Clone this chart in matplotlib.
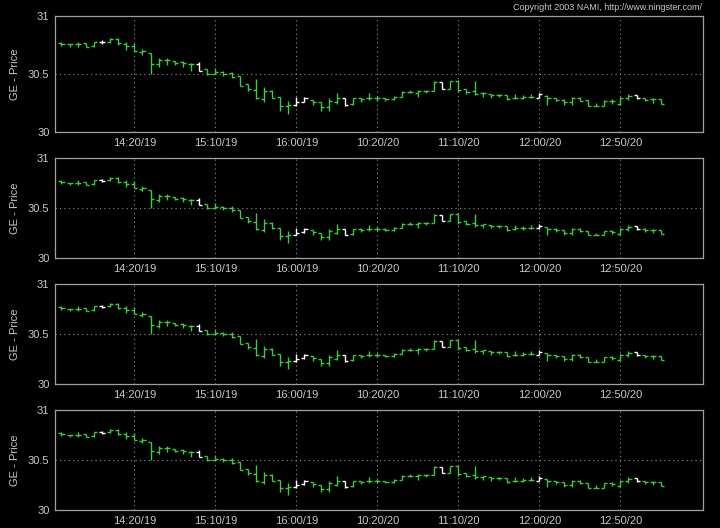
import numpy as np
import pandas as pd
import matplotlib
matplotlib.use('Agg')
import matplotlib.pyplot as plt

# 5-minute bars, GE price (two sessions)
times = list(pd.date_range('2003-05-19 13:35', '2003-05-19 16:00', freq='5min')) + \
        list(pd.date_range('2003-05-20 09:35', '2003-05-20 13:15', freq='5min'))

opens = [30.77, 30.755, 30.755, 30.765, 30.738, 30.78, 30.78, 30.80, 30.76, 30.745,
         30.69, 30.68, 30.585, 30.62, 30.615, 30.60, 30.585, 30.585, 30.54, 30.50,
         30.515, 30.505, 30.48, 30.41, 30.365, 30.285, 30.35, 30.30, 30.22, 30.23,
         30.26, 30.28, 30.255, 30.215, 30.255, 30.29, 30.24, 30.29, 30.29, 30.29,
         30.29, 30.285, 30.30, 30.345, 30.34, 30.35, 30.355, 30.43, 30.375, 30.44,
         30.375, 30.355, 30.335, 30.33, 30.32, 30.32, 30.29, 30.295, 30.30, 30.295,
         30.31, 30.29, 30.28, 30.255, 30.29, 30.275, 30.225, 30.225, 30.27, 30.24,
         30.29, 30.32, 30.29, 30.285, 30.285]
highs = [30.776, 30.755, 30.776, 30.765, 30.78, 30.79, 30.807, 30.807, 30.776, 30.767,
         30.718, 30.68, 30.64, 30.64, 30.615, 30.61, 30.595, 30.605, 30.54, 30.55,
         30.525, 30.52, 30.48, 30.415, 30.455, 30.385, 30.36, 30.30, 30.27, 30.30,
         30.30, 30.28, 30.255, 30.29, 30.34, 30.29, 30.29, 30.295, 30.335, 30.31,
         30.295, 30.31, 30.35, 30.36, 30.36, 30.365, 30.44, 30.435, 30.44, 30.445,
         30.375, 30.44, 30.345, 30.33, 30.33, 30.32, 30.33, 30.32, 30.33, 30.34,
         30.315, 30.295, 30.285, 30.30, 30.30, 30.275, 30.25, 30.275, 30.285, 30.30,
         30.33, 30.32, 30.295, 30.29, 30.285]
lows = [30.741, 30.73, 30.733, 30.733, 30.735, 30.762, 30.767, 30.753, 30.707, 30.70,
        30.666, 30.50, 30.56, 30.58, 30.58, 30.56, 30.53, 30.53, 30.49, 30.50,
        30.485, 30.465, 30.40, 30.35, 30.285, 30.26, 30.29, 30.18, 30.155, 30.225,
        30.255, 30.23, 30.185, 30.185, 30.24, 30.225, 30.235, 30.26, 30.275, 30.27,
        30.27, 30.275, 30.30, 30.335, 30.30, 30.335, 30.355, 30.37, 30.375, 30.345,
        30.33, 30.315, 30.30, 30.295, 30.30, 30.275, 30.285, 30.285, 30.29, 30.29,
        30.235, 30.265, 30.235, 30.235, 30.265, 30.225, 30.225, 30.225, 30.245, 30.235,
        30.275, 30.285, 30.265, 30.25, 30.24]
closes = [30.76, 30.755, 30.755, 30.733, 30.78, 30.775, 30.80, 30.765, 30.745, 30.70,
          30.70, 30.59, 30.62, 30.62, 30.595, 30.595, 30.585, 30.53, 30.50, 30.515,
          30.50, 30.475, 30.40, 30.37, 30.29, 30.35, 30.295, 30.22, 30.23, 30.255,
          30.29, 30.26, 30.215, 30.27, 30.29, 30.235, 30.29, 30.285, 30.29, 30.29,
          30.285, 30.305, 30.345, 30.345, 30.35, 30.355, 30.43, 30.375, 30.44, 30.36,
          30.345, 30.33, 30.34, 30.32, 30.32, 30.285, 30.295, 30.30, 30.30, 30.325,
          30.29, 30.28, 30.255, 30.29, 30.27, 30.225, 30.225, 30.27, 30.265, 30.29,
          30.31, 30.29, 30.28, 30.285, 30.24]
# bars drawn in white (1-based bar numbers)
white_bars = [6, 18, 30, 31, 36, 48, 60, 72]

x = np.arange(1, len(opens) + 1)
colors = ['white' if i in white_bars else '#3ccc3c' for i in x]
tick_pos = x[9::10]
tick_lab = [times[i - 1].strftime('%H:%M/%d') for i in tick_pos]

plt.rcParams['font.family'] = ['Liberation Sans', 'DejaVu Sans']
fig = plt.figure(figsize=(7.2, 5.28), dpi=100, facecolor='black')

fg = '#c8c8c8'
# (top, bottom) of each panel in pixels
panels = [(16, 132), (158, 258), (284, 384), (410, 510)]
for top, bot in panels:
    ax = fig.add_axes([55 / 720, 1 - bot / 528, 648 / 720, (bot - top) / 528])
    ax.set_facecolor('black')
    w = 0.38
    ax.vlines(x, lows, highs, colors=colors, lw=1.0)
    ax.hlines(opens, x - w, x, colors=colors, lw=1.0)
    ax.hlines(closes, x, x + w, colors=colors, lw=1.0)
    ax.set_xlim(0.2, 80.2)
    ax.set_ylim(30, 31)
    ax.set_yticks([30, 30.5, 31])
    ax.set_yticklabels(['30', '30.5', '31'])
    ax.set_xticks(tick_pos)
    ax.set_xticklabels(tick_lab)
    ax.tick_params(colors=fg, labelsize=8, length=0, pad=4)
    ax.grid(True, color='#909090', linestyle=(0, (1, 3)), lw=0.8)
    for s in ax.spines.values():
        s.set_color('#a0a0a0')
        s.set_linewidth(0.9)
    ax.set_ylabel('GE - Price', color=fg, fontsize=8, labelpad=6)

fig.text(702 / 720, 1 - 8 / 528, 'Copyright 2003 NAMI, http://www.ningster.com/',
         color=fg, fontsize=6.5, ha='right', va='center')

fig.savefig('out.png', dpi=100, facecolor='black')
